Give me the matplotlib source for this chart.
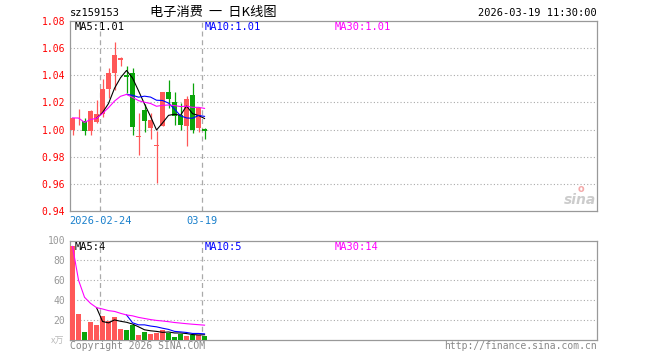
import numpy as np
import pandas as pd
import matplotlib
matplotlib.use("Agg")
import matplotlib.pyplot as plt
from matplotlib.transforms import blended_transform_factory

# --- données ---
opens = [0.9995, 1.0082, 1.0066, 0.9988, 1.0059, 1.0117, 1.0298, 1.0420, 1.0510, 1.0400,
         1.0414, 0.9944, 1.0141, 1.0012, 0.9882, 1.0025, 1.0280, 1.0203, 1.0110, 1.0030,
         1.0257, 1.0012, 1.0007]
closes = [1.0086, 1.0084, 0.9988, 1.0139, 1.0117, 1.0298, 1.0418, 1.0550, 1.0527, 1.0385,
          1.0020, 0.9946, 1.0061, 1.0073, 0.9884, 1.0280, 1.0226, 1.0102, 1.0035, 1.0228,
          0.9995, 1.0159, 0.9990]
highs = [1.0086, 1.0154, 1.0086, 1.0147, 1.0220, 1.0375, 1.0456, 1.0645, 1.0532, 1.0470,
         1.0456, 1.0122, 1.0188, 1.0122, 0.9990, 1.0280, 1.0362, 1.0280, 1.0195, 1.0250,
         1.0345, 1.0165, 1.0015]
lows = [0.9958, 1.0037, 0.9958, 0.9958, 1.0050, 1.0090, 1.0232, 1.0290, 1.0470, 1.0270,
        0.9958, 0.9815, 0.9983, 0.9927, 0.9603, 1.0025, 1.0159, 1.0037, 0.9995, 0.9878,
        0.9975, 0.9983, 0.9932]
volumes = [94, 26, 8, 18, 15, 24, 19, 23, 11, 10, 15, 5, 8, 6, 7, 10, 7, 3, 6, 4, 5, 5, 4]

date_idx = [5, 22]
date_labels = ["2026-02-24", "03-19"]
price_ticks = [0.94, 0.96, 0.98, 1.00, 1.02, 1.04, 1.06, 1.08]
vol_ticks = [20, 40, 60, 80, 100]

RED = "#ff5858"
GREEN = "#0aa50a"
GRID = "#aaaaaa"
MONO = "DejaVu Sans Mono"

df = pd.DataFrame({"o": opens, "c": closes, "h": highs, "l": lows, "v": volumes})
x = np.arange(len(df))
up = df["c"] >= df["o"]
cols = [RED if u else GREEN for u in up]

ma5 = df["c"].rolling(5).mean()
ma10 = df["c"].rolling(10).mean()
ma30 = df["c"].rolling(30, min_periods=1).mean()
vma5 = df["v"].rolling(5).mean()
vma10 = df["v"].rolling(10).mean()
vma30 = df["v"].rolling(30, min_periods=1).mean()

W, H = 660, 360
fig = plt.figure(figsize=(6.6, 3.6), dpi=100)
fig.patch.set_facecolor("white")

def box(l, t, r, b):
    return [l / W, 1 - b / H, (r - l) / W, (b - t) / H]

ax = fig.add_axes(box(70, 21, 597, 211))
axv = fig.add_axes(box(70, 240.5, 597, 339.5))
xl = (-0.42, 87.4)

for a in (ax, axv):
    a.set_xlim(*xl)
    for s in a.spines.values():
        s.set_color("#999999")
        s.set_linewidth(0.9)
    a.tick_params(length=0)
    a.set_xticks([])
    for d in date_idx:
        a.axvline(d - 0.42, color="#aaaaaa", lw=0.9, ls=(0, (4, 3)), zorder=1)

# --- bougies ---
ax.set_ylim(0.94, 1.08)
ax.set_yticks(price_ticks)
ax.set_yticklabels([f"{t:.2f}" for t in price_ticks], color="red", fontsize=7, family=MONO)
for t in price_ticks[1:-1]:
    ax.axhline(t, color=GRID, lw=0.8, ls=(0, (1, 2)), zorder=0)

ax.vlines(x, df["l"], df["h"], colors=cols, lw=0.9, zorder=2)
body = np.maximum((df["c"] - df["o"]).abs(), 0.0006)
ax.bar(x, body, bottom=np.minimum(df["o"], df["c"]), width=0.83, color=cols, zorder=3)

ax.plot(x, ma5, color="black", lw=0.8, zorder=4)
ax.plot(x, ma10, color="#0000ff", lw=0.8, zorder=4)
ax.plot(x, ma30, color="#ff00ff", lw=0.8, zorder=4)

# --- volume ---
axv.set_ylim(0, 100)
axv.set_yticks(vol_ticks)
axv.set_yticklabels([str(t) for t in vol_ticks], color="#999999", fontsize=7, family=MONO)
for t in vol_ticks[:-1]:
    axv.axhline(t, color=GRID, lw=0.8, ls=(0, (1, 2)), zorder=0)
axv.bar(x, df["v"], width=0.83, color=cols, zorder=3)
axv.plot(x, vma5, color="black", lw=0.8, zorder=4)
axv.plot(x, vma10, color="#0000ff", lw=0.8, zorder=4)
axv.plot(x, vma30, color="#ff00ff", lw=0.8, zorder=4)

# --- textes ---
def ftext(px, py, s, **kw):
    fig.text(px / W, 1 - py / H, s, **kw)

ftext(70, 12.5, "sz159153", fontsize=7.5, family=MONO, va="center")
ftext(213, 12.5, "电子消费  一  日K线图", fontsize=9.5, family=["Noto Sans CJK SC", "DejaVu Sans"],
      va="center", ha="center")
ftext(597, 12.5, "2026-03-19 11:30:00", fontsize=7.5, family=MONO, va="center", ha="right")

ma_cols = ["black", "#0000ff", "#ff00ff"]
for k, (lab, c) in enumerate(zip(["MA5:1.01", "MA10:1.01", "MA30:1.01"], ma_cols)):
    ftext(75 + 130 * k, 26.5, lab, fontsize=7.5, family=MONO, color=c, va="center")
for k, (lab, c) in enumerate(zip(["MA5:4", "MA10:5", "MA30:14"], ma_cols)):
    ftext(75 + 130 * k, 246.5, lab, fontsize=7.5, family=MONO, color=c, va="center")

tr = blended_transform_factory(ax.transData, ax.transAxes)
for d, lab in zip(date_idx, date_labels):
    ax.text(d - 0.42, -0.055, lab, transform=tr, ha="center", va="center",
            fontsize=7.5, family=MONO, color="#1a80cc")

ftext(64, 341, "x万", fontsize=6.5, family=["Noto Sans CJK SC", "DejaVu Sans"],
      color="#bbbbbb", ha="right", va="center")
ftext(70, 346, "Copyright 2026 SINA.COM", fontsize=7, family=MONO, color="#888888", va="center")
ftext(597, 346, "http://finance.sina.com.cn", fontsize=7, family=MONO, color="#888888",
      va="center", ha="right")

# logo sina
ftext(596, 200, "sina", fontsize=10, weight="bold", style="italic", color="#cccccc",
      ha="right", va="center")
ftext(581, 189, "o", fontsize=7, weight="bold", color="#f4aaaa", ha="center", va="center")

fig.savefig("out.png", dpi=100)
